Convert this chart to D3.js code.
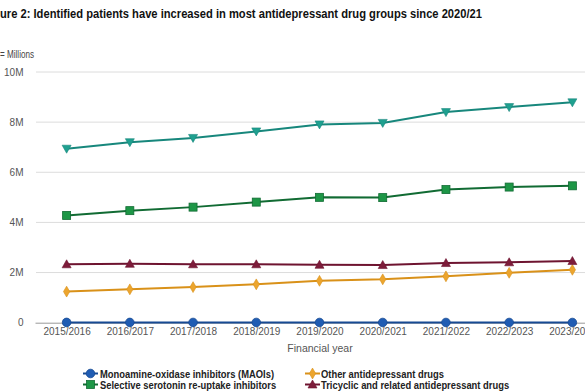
<!DOCTYPE html>
<html><head><meta charset="utf-8">
<script src="https://cdn.jsdelivr.net/npm/d3@7"></script>
<style>
html,body{margin:0;padding:0;background:#fff;overflow:hidden}
svg{display:block;font-family:"Liberation Sans",Arial,sans-serif}
</style></head><body>
<svg id="c" width="585" height="391"></svg>
<script>
const years = ["2015/2016","2016/2017","2017/2018","2018/2019","2019/2020","2020/2021","2021/2022","2022/2023","2023/2024"];
const maois = [0.012,0.011,0.010,0.010,0.009,0.009,0.009,0.009,0.008];
const ssri = [4.28,4.47,4.61,4.81,5.00,4.99,5.31,5.41,5.46];
const other = [1.24,1.33,1.42,1.53,1.67,1.73,1.85,1.99,2.11];
const tricyclic = [2.33,2.35,2.33,2.33,2.31,2.30,2.38,2.41,2.46];
const total = [6.94,7.20,7.37,7.63,7.91,7.97,8.40,8.60,8.79];
const yTicks = [0,2,4,6,8,10];
const yTickLabels = ["0","2M","4M","6M","8M","10M"];

const series = [
  {name:"Total identified patients", values: total, line:"#17877c", fill:"#1fa08f", shape:"tdown"},
  {name:"Selective serotonin re-uptake inhibitors", values: ssri, line:"#116b33", fill:"#1d9646", shape:"square"},
  {name:"Tricyclic and related antidepressant drugs", values: tricyclic, line:"#6e1430", fill:"#7d1c3a", shape:"tup"},
  {name:"Other antidepressant drugs", values: other, line:"#d99119", fill:"#eca52e", shape:"diamond"},
  {name:"Monoamine-oxidase inhibitors (MAOIs)", values: maois, line:"#174a93", fill:"#1f5cb3", shape:"circle"}
];

const svg = d3.select("#c");
const x = d3.scalePoint().domain(years).range([35,604]).padding(0.5);
const y = d3.scaleLinear().domain([0,10]).range([322.7,72]);

function measure(txt, size, weight){
  const t = svg.append("text").attr("font-size",size).attr("font-weight",weight).text(txt);
  const w = t.node().getComputedTextLength(); t.remove();
  return w;
}

// title (left part clipped like the reference)
const titleFull = "Figure 2: Identified patients have increased in most antidepressant drug groups since 2020/21";
const tSize = 13.5;
const fullW = measure(titleFull, tSize, "bold"), figW = measure("Fig", tSize, "bold");
const k = 482/(fullW-figW);
svg.append("text").attr("x",-figW*k).attr("y",17.5)
  .attr("font-size",tSize).attr("font-weight","bold").attr("fill","#111")
  .attr("textLength",fullW*k).attr("lengthAdjust","spacingAndGlyphs").text(titleFull);
svg.append("text").attr("x",0).attr("y",58).attr("font-size",10).attr("fill","#444")
  .attr("textLength",34).attr("lengthAdjust","spacingAndGlyphs").text("= Millions");

// gridlines
const gy = svg.append("g");
gy.selectAll("line").data(yTicks.filter(d=>d>0)).join("line")
  .attr("x1",36).attr("x2",585).attr("y1",d=>y(d)).attr("y2",d=>y(d))
  .attr("stroke","#dcdcdc").attr("stroke-width",1);
gy.selectAll("text").data(yTicks).join("text")
  .attr("x",23.5).attr("y",d=>y(d)+3.5).attr("text-anchor","end")
  .attr("font-size",10).attr("fill","#555").text((d,i)=>yTickLabels[i]);

// x axis
const xa = d3.axisBottom(x).tickSize(5).tickSizeOuter(0);
const gx = svg.append("g").attr("transform",`translate(0,${y(0)})`).call(xa);
gx.select(".domain").attr("stroke","#999").attr("d","M35.5,0.5H604");
gx.selectAll(".tick line").attr("stroke","#999");
gx.selectAll(".tick text").attr("font-size",10).attr("fill","#555").attr("dy","0.45em")
  .attr("font-family","Liberation Sans, Arial, sans-serif");
svg.append("text").attr("x",320).attr("y",352).attr("text-anchor","middle")
  .attr("font-size",10.5).attr("fill","#555").text("Financial year");

function marker(g, shape, fill, stroke){
  if(shape==="circle") g.append("circle").attr("r",4.3).attr("fill",fill).attr("stroke",stroke).attr("stroke-width",0.8);
  else if(shape==="square") g.append("rect").attr("x",-4).attr("y",-4).attr("width",8).attr("height",8).attr("fill",fill).attr("stroke",stroke).attr("stroke-width",0.8);
  else if(shape==="diamond") g.append("path").attr("d",d3.symbol(d3.symbolDiamond,34)()).attr("fill",fill).attr("stroke",stroke).attr("stroke-width",0.6);
  else if(shape==="tup") g.append("path").attr("d","M0,-4.5L4.5,3.5L-4.5,3.5Z").attr("fill",fill).attr("stroke",stroke).attr("stroke-width",0.6);
  else if(shape==="tdown") g.append("path").attr("d","M0,4.5L4.5,-3.5L-4.5,-3.5Z").attr("fill",fill).attr("stroke",stroke).attr("stroke-width",0.6);
}

const line = d3.line().x((d,i)=>x(years[i])).y(d=>y(d));
series.slice().reverse().forEach(s=>{
  const g = svg.append("g");
  g.append("path").attr("d",line(s.values)).attr("fill","none").attr("stroke",s.line).attr("stroke-width",2);
  s.values.forEach((v,i)=>{
    const m = g.append("g").attr("transform",`translate(${x(years[i])},${y(v)})`);
    marker(m, s.shape, s.fill, s.line);
  });
});

// legend
const lSize = 11;
const lk = 174/measure("Monoamine-oxidase inhibitors (MAOIs)", lSize, "bold");
const legendItems = [
  {s:series[4], x:83, y:373.5, tx:17},
  {s:series[3], x:305, y:373.5, tx:16},
  {s:series[1], x:83, y:384.5, tx:17},
  {s:series[2], x:305, y:384.5, tx:16}
];
legendItems.forEach(it=>{
  const g = svg.append("g").attr("transform",`translate(${it.x},${it.y})`);
  g.append("line").attr("x1",0).attr("x2",15).attr("stroke",it.s.line).attr("stroke-width",2);
  const m = g.append("g").attr("transform","translate(7.5,0)");
  marker(m, it.s.shape, it.s.fill, it.s.line);
  g.append("text").attr("x",it.tx).attr("y",4).attr("font-size",lSize).attr("font-weight","bold")
    .attr("fill","#222").attr("textLength",measure(it.s.name,lSize,"bold")*lk)
    .attr("lengthAdjust","spacingAndGlyphs").text(it.s.name);
});
</script>
</body></html>
